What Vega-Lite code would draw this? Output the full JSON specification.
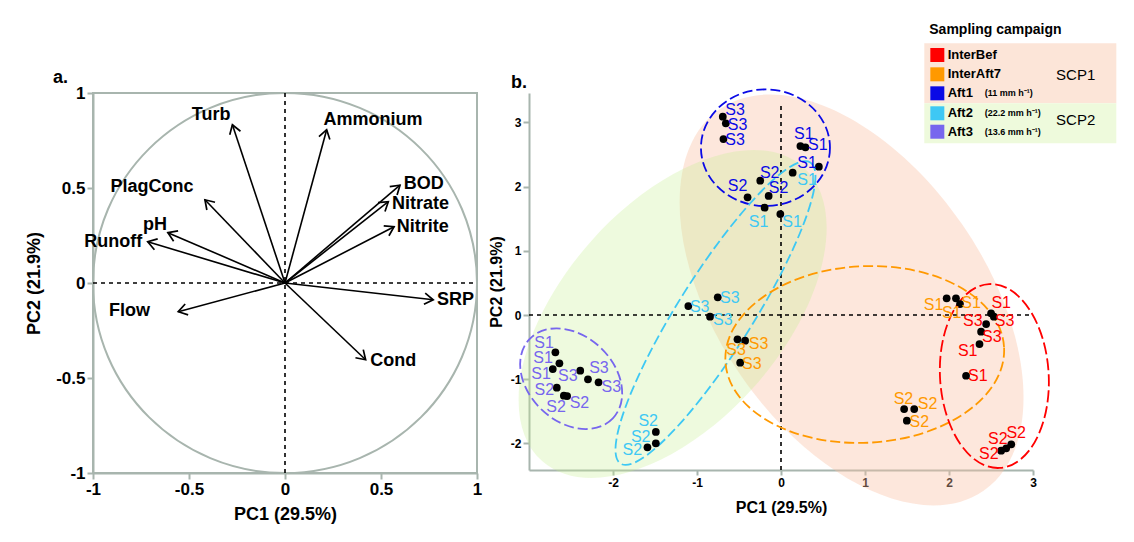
{
"$schema": "https://vega.github.io/schema/vega-lite/v6.json",
"padding": {"left": 24, "top": 22, "right": 5, "bottom": 5},
"spacing": 5,
"config": {
  "font": "Liberation Sans",
  "view": {"stroke": null},
  "axis": {"grid": false, "domainColor": "#a8b5ae", "domainWidth": 2, "tickColor": "#a8b5ae", "tickWidth": 2, "labelColor": "#000000", "labelFontWeight": "bold", "titleFontWeight": "bold", "titleColor": "#000000", "labelFlush": false, "labelOverlap": false, "labelExpr": "'' + datum.value"},
  "title": {"fontWeight": "bold", "color": "#000000"}
},
"datasets": {
  "arrows": [
    {"v": "Turb", "x": -0.274, "y": 0.833, "lx": -0.385, "ly": 0.886},
    {"v": "Ammonium", "x": 0.217, "y": 0.807, "lx": 0.458, "ly": 0.859},
    {"v": "PlagConc", "x": -0.417, "y": 0.438, "lx": -0.693, "ly": 0.507},
    {"v": "pH", "x": -0.61, "y": 0.265, "lx": -0.677, "ly": 0.307},
    {"v": "Runoff", "x": -0.715, "y": 0.217, "lx": -0.894, "ly": 0.215},
    {"v": "Flow", "x": -0.556, "y": -0.151, "lx": -0.81, "ly": -0.145},
    {"v": "BOD", "x": 0.599, "y": 0.515, "lx": 0.723, "ly": 0.52},
    {"v": "Nitrate", "x": 0.538, "y": 0.428, "lx": 0.706, "ly": 0.415},
    {"v": "Nitrite", "x": 0.568, "y": 0.296, "lx": 0.718, "ly": 0.294},
    {"v": "SRP", "x": 0.772, "y": -0.088, "lx": 0.888, "ly": -0.092},
    {"v": "Cond", "x": 0.42, "y": -0.404, "lx": 0.564, "ly": -0.408}
  ],
  "pts": [
    {"camp": "Aft1", "site": "S3", "x": -0.693, "y": 3.089, "lx": -0.546, "ly": 3.193},
    {"camp": "Aft1", "site": "S3", "x": -0.657, "y": 2.986, "lx": -0.518, "ly": 2.96},
    {"camp": "Aft1", "site": "S3", "x": -0.685, "y": 2.741, "lx": -0.546, "ly": 2.726},
    {"camp": "Aft1", "site": "S1", "x": 0.231, "y": 2.632, "lx": 0.271, "ly": 2.819},
    {"camp": "Aft1", "site": "S1", "x": 0.291, "y": 2.612, "lx": 0.438, "ly": 2.648},
    {"camp": "Aft1", "site": "S1", "x": 0.451, "y": 2.31, "lx": 0.311, "ly": 2.363},
    {"camp": "Aft1", "site": "S2", "x": -0.247, "y": 2.092, "lx": -0.135, "ly": 2.217},
    {"camp": "Aft1", "site": "S2", "x": -0.398, "y": 1.833, "lx": -0.518, "ly": 2.009},
    {"camp": "Aft1", "site": "S2", "x": -0.147, "y": 1.854, "lx": -0.028, "ly": 1.973},
    {"camp": "Aft2", "site": "S1", "x": 0.139, "y": 2.217, "lx": 0.311, "ly": 2.103},
    {"camp": "Aft2", "site": "S1", "x": -0.195, "y": 1.672, "lx": -0.267, "ly": 1.453},
    {"camp": "Aft2", "site": "S1", "x": -0.008, "y": 1.573, "lx": 0.131, "ly": 1.453},
    {"camp": "Aft2", "site": "S3", "x": -1.103, "y": 0.14, "lx": -0.968, "ly": 0.125},
    {"camp": "Aft2", "site": "S3", "x": -0.753, "y": 0.276, "lx": -0.61, "ly": 0.265},
    {"camp": "Aft2", "site": "S3", "x": -0.845, "y": -0.026, "lx": -0.693, "ly": -0.078},
    {"camp": "Aft2", "site": "S2", "x": -1.49, "y": -1.822, "lx": -1.581, "ly": -1.646},
    {"camp": "Aft2", "site": "S2", "x": -1.49, "y": -1.998, "lx": -1.67, "ly": -1.896},
    {"camp": "Aft2", "site": "S2", "x": -1.59, "y": -2.061, "lx": -1.769, "ly": -2.103},
    {"camp": "Aft3", "site": "S1", "x": -2.686, "y": -0.581, "lx": -2.821, "ly": -0.436},
    {"camp": "Aft3", "site": "S1", "x": -2.638, "y": -0.752, "lx": -2.833, "ly": -0.665},
    {"camp": "Aft3", "site": "S1", "x": -2.717, "y": -0.841, "lx": -2.856, "ly": -0.919},
    {"camp": "Aft3", "site": "S3", "x": -2.39, "y": -0.868, "lx": -2.537, "ly": -0.95},
    {"camp": "Aft3", "site": "S3", "x": -2.298, "y": -1.002, "lx": -2.167, "ly": -0.83},
    {"camp": "Aft3", "site": "S3", "x": -2.172, "y": -1.048, "lx": -2.02, "ly": -1.117},
    {"camp": "Aft3", "site": "S2", "x": -2.669, "y": -1.132, "lx": -2.817, "ly": -1.168},
    {"camp": "Aft3", "site": "S2", "x": -2.585, "y": -1.257, "lx": -2.677, "ly": -1.428},
    {"camp": "Aft3", "site": "S2", "x": -2.546, "y": -1.262, "lx": -2.399, "ly": -1.375},
    {"camp": "InterAft7", "site": "S3", "x": -0.518, "y": -0.379, "lx": -0.267, "ly": -0.456},
    {"camp": "InterAft7", "site": "S3", "x": -0.427, "y": -0.4, "lx": -0.534, "ly": -0.545},
    {"camp": "InterAft7", "site": "S3", "x": -0.486, "y": -0.743, "lx": -0.347, "ly": -0.763},
    {"camp": "InterAft7", "site": "S1", "x": 1.972, "y": 0.26, "lx": 1.817, "ly": 0.156},
    {"camp": "InterAft7", "site": "S1", "x": 2.083, "y": 0.26, "lx": 2.032, "ly": 0.026},
    {"camp": "InterAft7", "site": "S1", "x": 2.131, "y": 0.171, "lx": 2.262, "ly": 0.182},
    {"camp": "InterAft7", "site": "S2", "x": 1.466, "y": -1.464, "lx": 1.458, "ly": -1.308},
    {"camp": "InterAft7", "site": "S2", "x": 1.586, "y": -1.464, "lx": 1.745, "ly": -1.386},
    {"camp": "InterAft7", "site": "S2", "x": 1.498, "y": -1.646, "lx": 1.646, "ly": -1.662},
    {"camp": "InterBef", "site": "S1", "x": 2.501, "y": 0.026, "lx": 2.621, "ly": 0.182},
    {"camp": "InterBef", "site": "S1", "x": 2.363, "y": -0.452, "lx": 2.223, "ly": -0.561},
    {"camp": "InterBef", "site": "S1", "x": 2.203, "y": -0.946, "lx": 2.343, "ly": -0.95},
    {"camp": "InterBef", "site": "S3", "x": 2.534, "y": -0.026, "lx": 2.283, "ly": -0.093},
    {"camp": "InterBef", "site": "S3", "x": 2.442, "y": -0.14, "lx": 2.662, "ly": -0.093},
    {"camp": "InterBef", "site": "S3", "x": 2.382, "y": -0.26, "lx": 2.51, "ly": -0.347},
    {"camp": "InterBef", "site": "S2", "x": 2.741, "y": -2.014, "lx": 2.8, "ly": -1.843},
    {"camp": "InterBef", "site": "S2", "x": 2.681, "y": -2.076, "lx": 2.582, "ly": -1.931},
    {"camp": "InterBef", "site": "S2", "x": 2.621, "y": -2.114, "lx": 2.474, "ly": -2.165}
  ],
  "ell": [
    {"e": "SCP1", "x": 0.84, "y": 0.234},
    {"e": "SCP2", "x": -1.29, "y": 0.016},
    {"e": "Aft1", "x": -0.185, "y": 2.606},
    {"e": "Aft2", "x": -0.78, "y": 0.031},
    {"e": "Aft3", "x": -2.498, "y": -0.992},
    {"e": "InterAft7", "x": 0.997, "y": -0.615},
    {"e": "InterBef", "x": 2.54, "y": -0.95}
  ],
  "leg": [
    {"camp": "InterBef", "y": 4.05, "note": ""},
    {"camp": "InterAft7", "y": 3.749, "note": ""},
    {"camp": "Aft1", "y": 3.453, "note": "(11 mm h⁻¹)"},
    {"camp": "Aft2", "y": 3.142, "note": "(22.2 mm h⁻¹)"},
    {"camp": "Aft3", "y": 2.855, "note": "(13.6 mm h⁻¹)"}
  ]
},
"hconcat": [
  {
    "width": 384, "height": 380,
    "title": {"text": "a.", "anchor": "start", "frame": "group", "dx": -40, "offset": -3, "fontSize": 18},
    "view": {"stroke": "#a8b5ae", "strokeWidth": 2},
    "layer": [
      {
        "data": {"values": [{"x": 0, "y": 0}]},
        "mark": {"type": "point", "shape": "M1,0 C1,0.5468 0.5523,0.99 0,0.99 C-0.5523,0.99 -1,0.5468 -1,0 C-1,-0.5468 -0.5523,-0.99 0,-0.99 C0.5523,-0.99 1,-0.5468 1,0 Z", "size": 147456, "filled": false, "color": "#a8b5ae", "strokeWidth": 2, "opacity": 1},
        "encoding": {
          "x": {"field": "x", "type": "quantitative", "scale": {"domain": [-1, 1], "nice": false}, "axis": {"values": [-1, -0.5, 0, 0.5, 1], "title": "PC1 (29.5%)", "labelFontSize": 17, "titleFontSize": 18, "tickSize": 6, "labelPadding": 2, "titlePadding": 8}},
          "y": {"field": "y", "type": "quantitative", "scale": {"domain": [-1, 1], "nice": false}, "axis": {"values": [-1, -0.5, 0, 0.5, 1], "title": "PC2 (21.9%)", "labelFontSize": 17, "titleFontSize": 18, "tickSize": 6, "labelPadding": 2, "titlePadding": 12}}
        }
      },
      {
        "data": {"values": [{"x": -1, "y": 0, "x2": 1, "y2": 0}, {"x": 0, "y": -1, "x2": 0, "y2": 1}]},
        "mark": {"type": "rule", "color": "#000000", "strokeWidth": 1.6, "strokeDash": [4, 4]},
        "encoding": {
          "x": {"field": "x", "type": "quantitative", "scale": {"domain": [-1, 1], "nice": false}},
          "y": {"field": "y", "type": "quantitative", "scale": {"domain": [-1, 1], "nice": false}},
          "x2": {"field": "x2"}, "y2": {"field": "y2"}
        }
      },
      {
        "data": {"name": "arrows"},
        "mark": {"type": "rule", "color": "#000000", "strokeWidth": 1.6},
        "encoding": {
          "x": {"field": "x", "type": "quantitative", "scale": {"domain": [-1, 1], "nice": false}},
          "y": {"field": "y", "type": "quantitative", "scale": {"domain": [-1, 1], "nice": false}},
          "x2": {"datum": 0}, "y2": {"datum": 0}
        }
      },
      {
        "data": {"name": "arrows"},
        "transform": [{"calculate": "atan2(datum.x, datum.y) * 180 / PI", "as": "ang"}],
        "mark": {"type": "point", "shape": "M-0.55,0.85 L0,0 L0.55,0.85", "size": 420, "filled": false, "color": "#000000", "strokeWidth": 1.7, "opacity": 1, "strokeJoin": "miter"},
        "encoding": {
          "x": {"field": "x", "type": "quantitative", "scale": {"domain": [-1, 1], "nice": false}},
          "y": {"field": "y", "type": "quantitative", "scale": {"domain": [-1, 1], "nice": false}},
          "angle": {"field": "ang", "type": "quantitative", "scale": null}
        }
      },
      {
        "data": {"name": "arrows"},
        "mark": {"type": "text", "fontSize": 18, "fontWeight": "bold", "color": "#000000", "align": "center", "baseline": "middle"},
        "encoding": {
          "x": {"field": "lx", "type": "quantitative", "scale": {"domain": [-1, 1], "nice": false}},
          "y": {"field": "ly", "type": "quantitative", "scale": {"domain": [-1, 1], "nice": false}},
          "text": {"field": "v"}
        }
      }
    ]
  },
  {
    "width": 504, "height": 377,
    "layer": [
      {
        "data": {"name": "ell"},
        "transform": [{"filter": "datum.e == 'SCP1'"}],
        "mark": {"type": "point", "shape": "M1,0 C1,0.3191 0.5523,0.578 0,0.578 C-0.5523,0.578 -1,0.3191 -1,0 C-1,-0.3191 -0.5523,-0.578 0,-0.578 C0.5523,-0.578 1,-0.3191 1,0 Z", "size": 215110, "angle": 55.3, "filled": true, "color": "#f9c0a4", "opacity": 0.38},
        "encoding": {
          "x": {"field": "x", "type": "quantitative", "scale": {"domain": [-3, 3], "nice": false}, "axis": {"values": [-2, -1, 0, 1, 2, 3], "title": "PC1 (29.5%)", "labelFontSize": 12, "titleFontSize": 16, "tickSize": 5, "labelPadding": 2, "titlePadding": 11}},
          "y": {"field": "y", "type": "quantitative", "scale": {"domain": [-2.414, 3.458], "nice": false}, "axis": {"values": [-2, -1, 0, 1, 2, 3], "title": "PC2 (21.9%)", "labelFontSize": 12, "titleFontSize": 16, "tickSize": 6, "labelPadding": 2, "titlePadding": 6}}
        }
      },
      {
        "data": {"name": "ell"},
        "transform": [{"filter": "datum.e == 'SCP2'"}],
        "mark": {"type": "point", "shape": "M1,0 C1,0.307 0.5523,0.556 0,0.556 C-0.5523,0.556 -1,0.307 -1,0 C-1,-0.307 -0.5523,-0.556 0,-0.556 C0.5523,-0.556 1,-0.307 1,0 Z", "size": 154606, "angle": -48.4, "filled": true, "color": "#c6ee91", "opacity": 0.3},
        "encoding": {
          "x": {"field": "x", "type": "quantitative", "scale": {"domain": [-3, 3], "nice": false}},
          "y": {"field": "y", "type": "quantitative", "scale": {"domain": [-2.414, 3.458], "nice": false}}
        }
      },
      {
        "data": {"values": [{"g": "SCP1", "x": 1.706, "x2": 3.992, "y": 4.232, "y2": 3.298}, {"g": "SCP2", "x": 1.706, "x2": 3.992, "y": 3.298, "y2": 2.674}]},
        "mark": {"type": "rect"},
        "encoding": {
          "x": {"field": "x", "type": "quantitative", "scale": {"domain": [-3, 3], "nice": false}},
          "y": {"field": "y", "type": "quantitative", "scale": {"domain": [-2.414, 3.458], "nice": false}},
          "x2": {"field": "x2"}, "y2": {"field": "y2"},
          "fill": {"field": "g", "type": "nominal", "scale": {"domain": ["SCP1", "SCP2"], "range": ["#fce5d8", "#eefadc"]}, "legend": null}
        }
      },
      {
        "data": {"values": [{"x": -3, "y": 0, "x2": 3, "y2": 0}, {"x": 0, "y": -2.414, "x2": 0, "y2": 3.307}]},
        "mark": {"type": "rule", "color": "#000000", "strokeWidth": 1.6, "strokeDash": [4, 4]},
        "encoding": {
          "x": {"field": "x", "type": "quantitative", "scale": {"domain": [-3, 3], "nice": false}},
          "y": {"field": "y", "type": "quantitative", "scale": {"domain": [-2.414, 3.458], "nice": false}},
          "x2": {"field": "x2"}, "y2": {"field": "y2"}
        }
      },
      {
        "data": {"name": "ell"},
        "transform": [{"filter": "datum.e == 'Aft1'"}],
        "mark": {"type": "point", "shape": "M1,0 C1,0.499 0.5523,0.904 0,0.904 C-0.5523,0.904 -1,0.499 -1,0 C-1,-0.499 -0.5523,-0.904 0,-0.904 C0.5523,-0.904 1,-0.499 1,0 Z", "size": 16641, "angle": 0, "filled": false, "color": "#0a0ae6", "strokeWidth": 1.8, "strokeDash": [10, 4], "opacity": 1},
        "encoding": {
          "x": {"field": "x", "type": "quantitative", "scale": {"domain": [-3, 3], "nice": false}},
          "y": {"field": "y", "type": "quantitative", "scale": {"domain": [-2.414, 3.458], "nice": false}}
        }
      },
      {
        "data": {"name": "ell"},
        "transform": [{"filter": "datum.e == 'Aft2'"}],
        "mark": {"type": "point", "shape": "M1,0 C1,0.1158 0.5523,0.2097 0,0.2097 C-0.5523,0.2097 -1,0.1158 -1,0 C-1,-0.1158 -0.5523,-0.2097 0,-0.2097 C0.5523,-0.2097 1,-0.1158 1,0 Z", "size": 126736, "angle": -57.8, "filled": false, "color": "#3ec8f4", "strokeWidth": 1.8, "strokeDash": [10, 4], "opacity": 1},
        "encoding": {
          "x": {"field": "x", "type": "quantitative", "scale": {"domain": [-3, 3], "nice": false}},
          "y": {"field": "y", "type": "quantitative", "scale": {"domain": [-2.414, 3.458], "nice": false}}
        }
      },
      {
        "data": {"name": "ell"},
        "transform": [{"filter": "datum.e == 'Aft3'"}],
        "mark": {"type": "point", "shape": "M1,0 C1,0.411 0.5523,0.744 0,0.744 C-0.5523,0.744 -1,0.411 -1,0 C-1,-0.411 -0.5523,-0.744 0,-0.744 C0.5523,-0.744 1,-0.411 1,0 Z", "size": 13225, "angle": 43.6, "filled": false, "color": "#7766ee", "strokeWidth": 1.8, "strokeDash": [10, 4], "opacity": 1},
        "encoding": {
          "x": {"field": "x", "type": "quantitative", "scale": {"domain": [-3, 3], "nice": false}},
          "y": {"field": "y", "type": "quantitative", "scale": {"domain": [-2.414, 3.458], "nice": false}}
        }
      },
      {
        "data": {"name": "ell"},
        "transform": [{"filter": "datum.e == 'InterAft7'"}],
        "mark": {"type": "point", "shape": "M1,0 C1,0.3496 0.5523,0.633 0,0.633 C-0.5523,0.633 -1,0.3496 -1,0 C-1,-0.3496 -0.5523,-0.633 0,-0.633 C0.5523,-0.633 1,-0.3496 1,0 Z", "size": 77841, "angle": -2.8, "filled": false, "color": "#ff9900", "strokeWidth": 1.8, "strokeDash": [10, 4], "opacity": 1},
        "encoding": {
          "x": {"field": "x", "type": "quantitative", "scale": {"domain": [-3, 3], "nice": false}},
          "y": {"field": "y", "type": "quantitative", "scale": {"domain": [-2.414, 3.458], "nice": false}}
        }
      },
      {
        "data": {"name": "ell"},
        "transform": [{"filter": "datum.e == 'InterBef'"}],
        "mark": {"type": "point", "shape": "M1,0 C1,0.326 0.5523,0.59 0,0.59 C-0.5523,0.59 -1,0.326 -1,0 C-1,-0.326 -0.5523,-0.59 0,-0.59 C0.5523,-0.59 1,-0.326 1,0 Z", "size": 33930, "angle": 86.65, "filled": false, "color": "#ff0000", "strokeWidth": 1.8, "strokeDash": [12, 4], "opacity": 1},
        "encoding": {
          "x": {"field": "x", "type": "quantitative", "scale": {"domain": [-3, 3], "nice": false}},
          "y": {"field": "y", "type": "quantitative", "scale": {"domain": [-2.414, 3.458], "nice": false}}
        }
      },
      {
        "data": {"name": "pts"},
        "mark": {"type": "point", "shape": "circle", "size": 60, "filled": true, "color": "#000000", "opacity": 1},
        "encoding": {
          "x": {"field": "x", "type": "quantitative", "scale": {"domain": [-3, 3], "nice": false}},
          "y": {"field": "y", "type": "quantitative", "scale": {"domain": [-2.414, 3.458], "nice": false}}
        }
      },
      {
        "data": {"name": "pts"},
        "mark": {"type": "text", "font": "Liberation Sans Narrow, Liberation Sans", "fontSize": 16, "align": "center", "baseline": "middle"},
        "encoding": {
          "x": {"field": "lx", "type": "quantitative", "scale": {"domain": [-3, 3], "nice": false}},
          "y": {"field": "ly", "type": "quantitative", "scale": {"domain": [-2.414, 3.458], "nice": false}},
          "text": {"field": "site"},
          "color": {"field": "camp", "type": "nominal", "scale": {"domain": ["InterBef", "InterAft7", "Aft1", "Aft2", "Aft3"], "range": ["#ff0000", "#ff9900", "#0a0ae6", "#3ec8f4", "#7766ee"]}, "legend": null}
        }
      },
      {
        "data": {"name": "leg"},
        "mark": {"type": "point", "shape": "square", "size": 196, "filled": true, "opacity": 1},
        "encoding": {
          "x": {"datum": 1.861, "type": "quantitative", "scale": {"domain": [-3, 3], "nice": false}},
          "y": {"field": "y", "type": "quantitative", "scale": {"domain": [-2.414, 3.458], "nice": false}},
          "color": {"field": "camp", "type": "nominal", "scale": {"domain": ["InterBef", "InterAft7", "Aft1", "Aft2", "Aft3"], "range": ["#ff0000", "#ff9900", "#0a0ae6", "#3ec8f4", "#7766ee"]}, "legend": null}
        }
      },
      {
        "data": {"name": "leg"},
        "mark": {"type": "text", "fontSize": 13, "fontWeight": "bold", "align": "left", "baseline": "middle", "color": "#000000"},
        "encoding": {
          "x": {"datum": 1.984, "type": "quantitative", "scale": {"domain": [-3, 3], "nice": false}},
          "y": {"field": "y", "type": "quantitative", "scale": {"domain": [-2.414, 3.458], "nice": false}},
          "text": {"field": "camp"}
        }
      },
      {
        "data": {"name": "leg"},
        "mark": {"type": "text", "font": "Liberation Sans Narrow, Liberation Sans", "fontSize": 9, "fontWeight": "bold", "align": "left", "baseline": "middle", "color": "#000000"},
        "encoding": {
          "x": {"datum": 2.426, "type": "quantitative", "scale": {"domain": [-3, 3], "nice": false}},
          "y": {"field": "y", "type": "quantitative", "scale": {"domain": [-2.414, 3.458], "nice": false}},
          "text": {"field": "note"}
        }
      },
      {
        "data": {"values": [{"t": "SCP1", "x": 3.275, "y": 3.738}, {"t": "SCP2", "x": 3.275, "y": 3.037}]},
        "mark": {"type": "text", "fontSize": 15, "align": "left", "baseline": "middle", "color": "#000000"},
        "encoding": {
          "x": {"field": "x", "type": "quantitative", "scale": {"domain": [-3, 3], "nice": false}},
          "y": {"field": "y", "type": "quantitative", "scale": {"domain": [-2.414, 3.458], "nice": false}},
          "text": {"field": "t"}
        }
      },
      {
        "data": {"values": [{"t": "Sampling campaign", "x": 1.765, "y": 4.44}]},
        "mark": {"type": "text", "fontSize": 14, "fontWeight": "bold", "align": "left", "baseline": "middle", "color": "#000000"},
        "encoding": {
          "x": {"field": "x", "type": "quantitative", "scale": {"domain": [-3, 3], "nice": false}},
          "y": {"field": "y", "type": "quantitative", "scale": {"domain": [-2.414, 3.458], "nice": false}},
          "text": {"field": "t"}
        }
      },
      {
        "data": {"values": [{"t": "b.", "x": -3.215, "y": 3.614}]},
        "mark": {"type": "text", "fontSize": 18, "fontWeight": "bold", "align": "left", "baseline": "middle", "color": "#000000"},
        "encoding": {
          "x": {"field": "x", "type": "quantitative", "scale": {"domain": [-3, 3], "nice": false}},
          "y": {"field": "y", "type": "quantitative", "scale": {"domain": [-2.414, 3.458], "nice": false}},
          "text": {"field": "t"}
        }
      }
    ]
  }
]
}
